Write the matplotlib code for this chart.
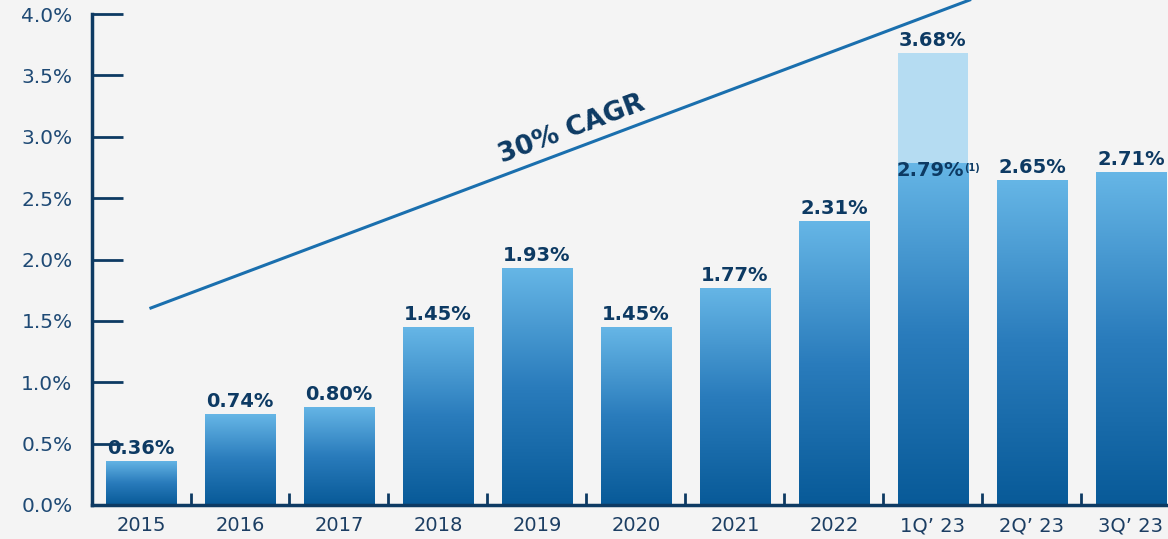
import numpy as np
import matplotlib.pyplot as plt
from matplotlib.colors import LinearSegmentedColormap

# data
periods = ["2015", "2016", "2017", "2018", "2019", "2020", "2021", "2022", "1Q\u2019 23", "2Q\u2019 23", "3Q\u2019 23"]
values = [0.36, 0.74, 0.80, 1.45, 1.93, 1.45, 1.77, 2.31, 2.79, 2.65, 2.71]
q1_reported = 3.68          # light bar behind 1Q'23
q1_index = 8
cagr_start = (0.10, 1.605)  # trend line, data coords
cagr_end = (8.37, 4.114)
yticks = [0.0, 0.5, 1.0, 1.5, 2.0, 2.5, 3.0, 3.5, 4.0]

navy = "#0d3a63"
bg = "#f4f4f4"
cmap = LinearSegmentedColormap.from_list("barblue", ["#085a98", "#2a7cbc", "#66b6e6"])

plt.rcParams['font.family'] = ['DejaVu Sans']

fig = plt.figure(figsize=(11.68, 5.39), dpi=100, facecolor=bg)
ax = fig.add_axes([92 / 1168, 34 / 539, 1076 / 1168, 491 / 539])
ax.set_facecolor(bg)

x = np.arange(len(periods))
width = 0.71

# light "reported" bar for 1Q'23
ax.bar(q1_index, q1_reported, width=width, color="#b5dcf2", zorder=1)

bars = ax.bar(x, values, width=width, color="none", zorder=2)
grad = np.linspace(0, 1, 256).reshape(-1, 1)
for b in bars:
    x0, y0 = b.get_x(), b.get_y()
    w, h = b.get_width(), b.get_height()
    im = ax.imshow(grad, cmap=cmap, aspect="auto", origin="lower",
                   extent=[x0, x0 + w, y0, y0 + h], zorder=2)
    im.set_clip_path(b)

# value labels
for i, v in enumerate(values):
    if i == q1_index:
        t = ax.text(i - 0.03, v - 0.065, f"{v:.2f}%", ha="center", va="center",
                    fontsize=14, fontweight="bold", color=navy, zorder=4)
        ax.annotate("(1)", xy=(1, 0.9), xycoords=t, ha="left", va="top",
                    fontsize=7, fontweight="bold", color=navy, zorder=4)
    else:
        ax.text(i, v + 0.025, f"{v:.2f}%", ha="center", va="bottom",
                fontsize=14, fontweight="bold", color=navy, zorder=4)
ax.text(q1_index, q1_reported + 0.025, f"{q1_reported:.2f}%", ha="center", va="bottom",
        fontsize=14, fontweight="bold", color=navy, zorder=4)

# CAGR trend line
ax.plot([cagr_start[0], cagr_end[0]], [cagr_start[1], cagr_end[1]],
        color="#1a6fae", lw=2.2, clip_on=False, zorder=3)
ax.text(4.35, 3.06, "30% CAGR", rotation=20.5, rotation_mode="anchor",
        ha="center", va="center", fontsize=19, fontweight="bold", color=navy)

# axes styling
ax.set_xlim(-0.495, 10.374)
ax.set_ylim(0, 4.0)
for side in ["top", "right"]:
    ax.spines[side].set_visible(False)
for side in ["left", "bottom"]:
    ax.spines[side].set_color(navy)
    ax.spines[side].set_linewidth(2.5)

ax.set_yticks(yticks)
ax.set_yticklabels([f"{t:.1f}%" for t in yticks])
ax.tick_params(axis="y", direction="in", length=22, width=2, color=navy,
               labelsize=14.5, labelcolor="#1f4a75", pad=14)

ax.set_xticks(x)
ax.set_xticklabels(periods)
ax.set_xticks(x[:-1] + 0.5, minor=True)
ax.tick_params(axis="x", which="major", length=0, labelsize=14,
               labelcolor="#1c3e63", pad=8)
ax.tick_params(axis="x", which="minor", direction="in", length=9, width=2, color=navy)

plt.savefig("out.png", dpi=100, facecolor=bg)
